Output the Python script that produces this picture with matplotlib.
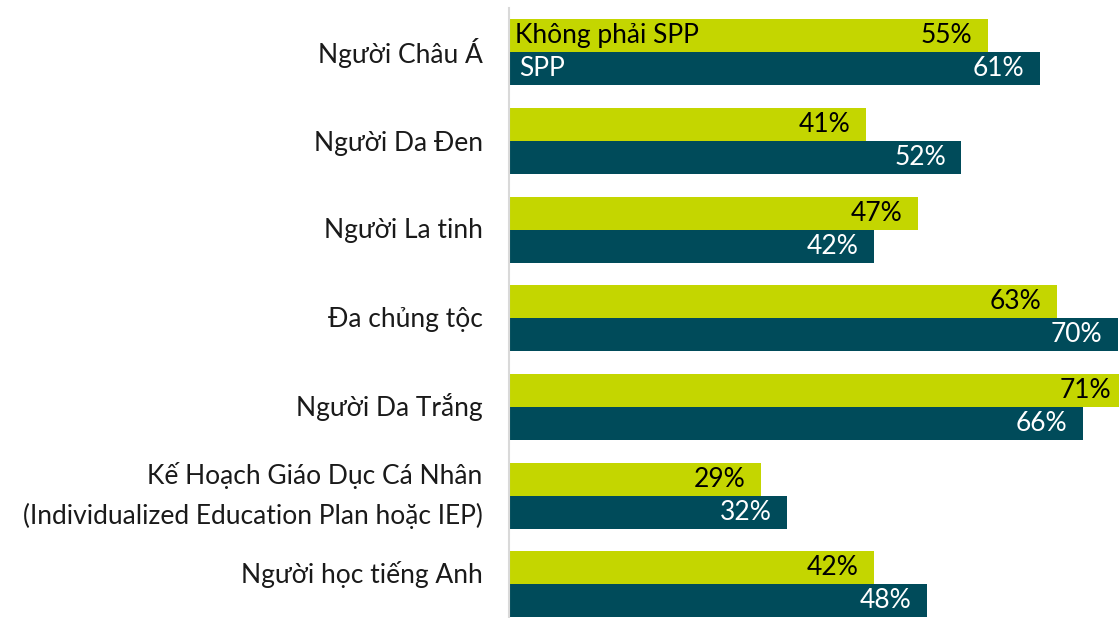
import numpy as np
import matplotlib.pyplot as plt
from matplotlib.transforms import blended_transform_factory, offset_copy

categories = ['Người Châu Á', 'Người Da Đen', 'Người La tinh', 'Đa chủng tộc',
              'Người Da Trắng',
              'Kế Hoạch Giáo Dục Cá Nhân\n(Individualized Education Plan hoặc IEP)',
              'Người học tiếng Anh']
non_spp = [55, 41, 47, 63, 71, 29, 42]
spp = [61, 52, 42, 70, 66, 32, 48]
series_names = ['Không phải SPP', 'SPP']

green = '#C4D600'
teal = '#004B5A'

plt.rcParams['font.family'] = ['Lato', 'DejaVu Sans']

fig = plt.figure(figsize=(11.19, 6.18), dpi=100)
ax = fig.add_axes([509 / 1119, 0, 1 - 509 / 1119, 1 - 8 / 618])

y = np.arange(len(categories))
h = 0.372
ax.barh(y - h / 2, non_spp, height=h, color=green)
ax.barh(y + h / 2, spp, height=h, color=teal)

ax.set_xlim(0, 70.1)
ax.set_ylim(6.38, -0.5)

ax.set_yticks([])
ax.set_xticks([])
for s in ['top', 'right', 'bottom']:
    ax.spines[s].set_visible(False)
ax.spines['left'].set_color('#d9d9d9')
ax.spines['left'].set_linewidth(1.5)

# category labels; the last ones sit a little higher in the original
trans = blended_transform_factory(ax.transAxes, ax.transData)
lift = [1, 0, 1, 1, 2, 7, 9]
for i, cat in enumerate(categories):
    t = offset_copy(trans, fig=fig, x=-19, y=lift[i], units='points')
    ax.text(0, y[i], cat, transform=t, ha='right', va='center_baseline',
            multialignment='right', linespacing=1.65, fontsize=19, color='#1a1a1a')

off = 1.8
for i in range(len(categories)):
    ax.text(non_spp[i] - off, y[i] - h / 2, f'{non_spp[i]}%', ha='right', va='center',
            fontsize=19, color='black', clip_on=False)
    ax.text(spp[i] - off, y[i] + h / 2, f'{spp[i]}%', ha='right', va='center',
            fontsize=19, color='white', clip_on=False)

# series names written inside the first pair of bars
ax.text(0.7, y[0] - h / 2, series_names[0], ha='left', va='center', fontsize=19, color='black')
ax.text(1.2, y[0] + h / 2, series_names[1], ha='left', va='center', fontsize=19, color='white')

fig.savefig('out.png', dpi=100)
